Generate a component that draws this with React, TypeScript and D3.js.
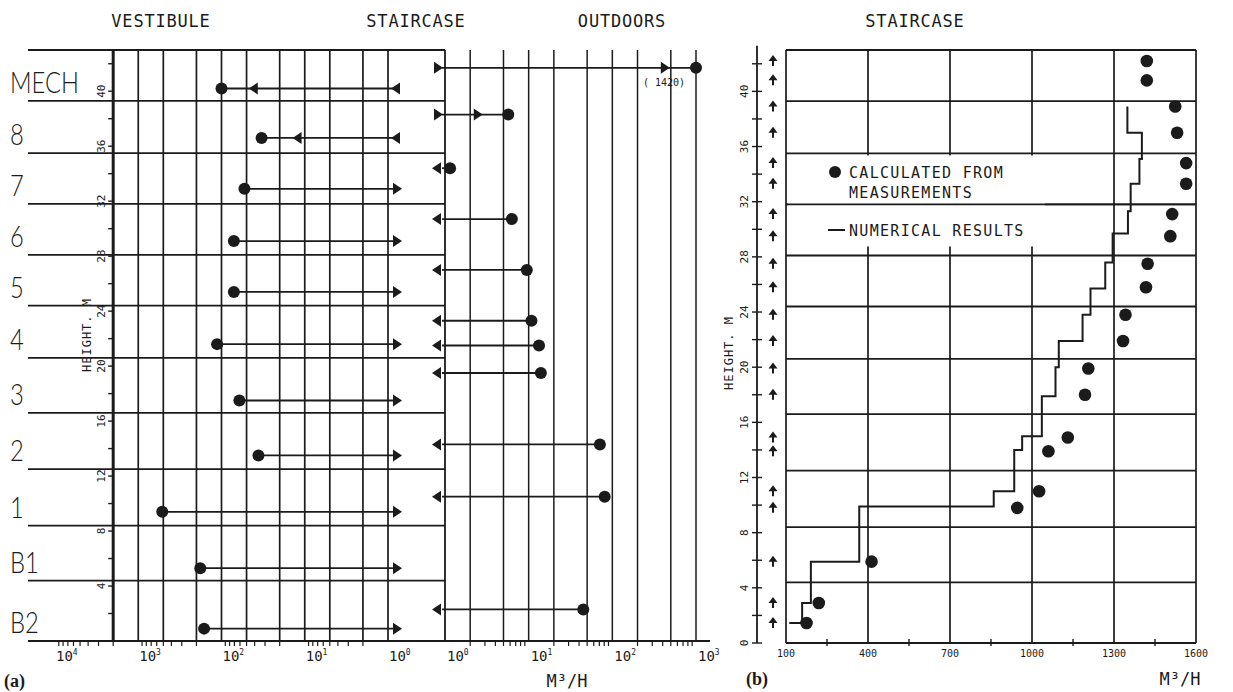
import React from 'react';
import * as d3 from 'd3';

// floors (height of floor lines, m) and their names, bottom to top
const floorLevels = [0, 4.4, 8.4, 12.5, 16.6, 20.6, 24.4, 28.1, 31.8, 35.5, 39.3, 43];
const floorNames = ['B2', 'B1', '1', '2', '3', '4', '5', '6', '7', '8', 'MECH'];

// (a) vestibule <-> staircase flows, m3/h
const vestHeight = [40.2, 36.6, 32.9, 29.1, 25.4, 21.6, 17.5, 13.5, 9.4, 5.3, 0.9];
const vestFlow = [100, 33, 53, 71, 71, 113, 61, 36, 515, 180, 162];
const vestToStair = [false, false, true, true, true, true, true, true, true, true, true];
const vestMidFlow = [47, 14, 0, 0, 0, 0, 0, 0, 0, 0, 0];

// (a) staircase <-> outdoors flows, m3/h
const outHeight = [41.7, 38.3, 34.4, 30.7, 27.0, 23.3, 21.5, 19.5, 14.3, 10.5, 2.3];
const outFlow = [1420, 5.7, 1.15, 6.3, 9.5, 10.8, 13.3, 14, 71, 81, 45];
const outToStair = [false, false, true, true, true, true, true, true, true, true, true];
const outMidFlow = [448, 2.6, 0, 0, 0, 0, 0, 0, 0, 0, 0];

// (b) staircase flow calculated from measurements
const measHeight = [42.2, 40.8, 38.9, 37.0, 34.8, 33.3, 31.1, 29.5, 27.5, 25.8, 23.8, 21.9, 19.9, 18.0, 14.9, 13.9, 11.0, 9.8, 5.9, 2.9, 1.45];
const measFlow = [1420, 1420, 1524, 1531, 1564, 1564, 1513, 1506, 1423, 1417, 1342, 1333, 1206, 1194, 1131, 1060, 1026, 946, 413, 220, 175];

// (b) numerical results (step line vertices)
const numFlow = [112, 159, 191, 368, 860, 935, 964, 1036, 1086, 1098, 1185, 1214, 1268, 1295, 1351, 1361, 1393, 1402, 1349];
const numHeight = [1.45, 2.9, 5.9, 9.9, 11.0, 14.0, 15.0, 17.9, 20.0, 21.9, 23.8, 25.7, 27.6, 29.7, 31.3, 33.3, 35.1, 37.0, 38.9];

const vestDecades = [4, 3, 2, 1, 0];
const outDecades = [0, 1, 2, 3];
const bTicks = [100, 400, 700, 1000, 1300, 1600];
const bMinor = [250, 550, 850, 1150, 1450];
const heightLabels = [4, 8, 12, 16, 20, 24, 28, 32, 36, 40];

const ink = '#1b1b1b';
const mono = '"DejaVu Sans Mono", monospace';
const thin = 'Lato, "Open Sans", Roboto, sans-serif';

const tri = (tip: number, y: number, dir: number, len = 9, half = 6) =>
  `${tip},${y} ${tip - dir * len},${y - half} ${tip - dir * len},${y + half}`;

export default function App() {
  const yA = d3.scaleLinear().domain([0, 43]).range([641, 50]);
  const yB = d3.scaleLinear().domain([0, 43]).range([643, 50]);
  const xVest = d3.scaleLog().domain([1, 10000]).range([388, 55]);
  const xOut = d3.scaleLog().domain([1, 1000]).range([445, 696]).clamp(true);
  const xB = d3.scaleLinear().domain([100, 1600]).range([786, 1196]);

  const boxLeft = 28;
  const axisA = xVest(2000);
  const stairEdge = xOut(1);
  const vestGrid = [1, 2, 5, 10, 20, 50, 100, 200, 500, 1000];
  const outGrid = [2, 5, 10, 20, 50, 100, 200, 500, 1000];

  const vestMinor: number[] = [];
  [1, 10, 100, 1000].forEach((d) => d3.range(2, 10).forEach((m) => vestMinor.push(d * m)));
  const outMinor: number[] = [];
  [1, 10, 100].forEach((d) => d3.range(2, 10).forEach((m) => outMinor.push(d * m)));

  const heightTicks = d3.range(0, 43, 2);

  const stepLine = d3
    .line<number>()
    .x((_, i) => xB(numFlow[i]))
    .y((_, i) => yB(numHeight[i]))
    .curve(d3.curveStepAfter);

  const arrowX = 773;

  return (
    <svg width={1233} height={692} style={{ position: 'absolute', left: 0, top: 0, background: '#fff' }}>
      <rect width={1233} height={692} fill="#fff" />

      {/* ---------- panel (a) ---------- */}
      <g fontFamily={mono} fill={ink} fontSize={17} letterSpacing={0.8}>
        <text x={161} y={27} textAnchor="middle">VESTIBULE</text>
        <text x={416} y={27} textAnchor="middle">STAIRCASE</text>
        <text x={622} y={27} textAnchor="middle">OUTDOORS</text>
      </g>

      {/* vestibule vertical grid */}
      {vestGrid.map((v) => (
        <line key={'vg' + v} x1={xVest(v)} x2={xVest(v)} y1={yA(43)} y2={yA(0)} stroke={ink} strokeWidth={1.7} />
      ))}
      {/* outdoor vertical grid */}
      {outGrid.map((v) => (
        <line key={'og' + v} x1={xOut(v)} x2={xOut(v)} y1={yA(43)} y2={yA(0)} stroke={ink} strokeWidth={1.5} />
      ))}
      {/* floor lines */}
      {floorLevels.map((h) => (
        <line key={'fl' + h} x1={boxLeft} x2={stairEdge} y1={yA(h)} y2={yA(h)} stroke={ink} strokeWidth={1.8} />
      ))}
      <line x1={stairEdge} x2={stairEdge} y1={yA(43)} y2={yA(0)} stroke={ink} strokeWidth={1.8} />
      <line x1={axisA} x2={axisA} y1={yA(43)} y2={yA(0)} stroke={ink} strokeWidth={3} />
      <line x1={boxLeft} x2={710} y1={yA(0)} y2={yA(0)} stroke={ink} strokeWidth={1.8} />

      {/* floor names */}
      {floorNames.map((n, i) => (
        <text key={'fn' + n} transform={`translate(10,${yA(floorLevels[i]) - 8}) scale(0.82,1)`} fontSize={29}
          fontFamily={thin} fontWeight={300} fill={ink}>{n}</text>
      ))}

      {/* height axis (a) */}
      {heightTicks.map((h) => (
        <line key={'ht' + h} x1={axisA - 5} x2={axisA} y1={yA(h)} y2={yA(h)} stroke={ink} strokeWidth={1.4} />
      ))}
      {heightLabels.map((h) => (
        <text key={'hl' + h} transform={`translate(${axisA - 8},${yA(h)}) rotate(-90)`} fontSize={11}
          fontFamily={mono} textAnchor="middle" fill={ink}>{h}</text>
      ))}
      <text transform={`translate(91,335) rotate(-90)`} fontSize={12} fontFamily={mono} textAnchor="middle"
        letterSpacing={1} fill={ink}>HEIGHT. M</text>

      {/* log axis minor ticks */}
      {vestMinor.filter((v) => xVest(v) >= boxLeft).map((v) => (
        <line key={'vm' + v} x1={xVest(v)} x2={xVest(v)} y1={yA(0)} y2={yA(0) + 5} stroke={ink} strokeWidth={1.2} />
      ))}
      {outMinor.map((v) => (
        <line key={'om' + v} x1={xOut(v)} x2={xOut(v)} y1={yA(0)} y2={yA(0) + 5} stroke={ink} strokeWidth={1.2} />
      ))}
      {vestDecades.map((e) => (
        <text key={'vd' + e} x={xVest(Math.pow(10, e)) + 1} y={661} fontSize={14} fontFamily={mono} fill={ink}>
          10<tspan dy={-6} fontSize={8}>{e}</tspan>
        </text>
      ))}
      {outDecades.map((e) => (
        <text key={'od' + e} x={xOut(Math.pow(10, e)) + 2} y={661} fontSize={14} fontFamily={mono} fill={ink}>
          10<tspan dy={-6} fontSize={8}>{e}</tspan>
        </text>
      ))}
      <text x={567} y={687} fontSize={17} fontFamily={mono} textAnchor="middle" fill={ink}>M³/H</text>
      <text x={4} y={687} fontSize={18} fontWeight="bold" fontFamily='"Liberation Serif", serif' fill={ink}>(a)</text>

      {/* vestibule flows */}
      {vestFlow.map((f, i) => {
        const y = yA(vestHeight[i]);
        const x = xVest(f);
        const end = vestToStair[i] ? xVest(1) + 5 : xVest(1) + 12;
        return (
          <g key={'vf' + i}>
            <line x1={x} x2={end} y1={y} y2={y} stroke={ink} strokeWidth={1.8} />
            {vestToStair[i]
              ? <polygon points={tri(xVest(1) + 14, y, 1)} fill={ink} />
              : <polygon points={tri(xVest(1) + 3, y, -1)} fill={ink} />}
            {vestMidFlow[i] > 0 && <polygon points={tri(xVest(vestMidFlow[i]), y, -1)} fill={ink} />}
            <circle cx={x} cy={y} r={6} fill={ink} />
          </g>
        );
      })}

      {/* outdoor flows */}
      {outFlow.map((f, i) => {
        const y = yA(outHeight[i]);
        const x = xOut(f);
        return (
          <g key={'of' + i}>
            <line x1={stairEdge - 3} x2={x} y1={y} y2={y} stroke={ink} strokeWidth={1.8} />
            {outToStair[i]
              ? <polygon points={tri(stairEdge - 13, y, -1)} fill={ink} />
              : <polygon points={tri(stairEdge - 2, y, 1)} fill={ink} />}
            {outMidFlow[i] > 0 && <polygon points={tri(xOut(outMidFlow[i]) + 3, y, 1)} fill={ink} />}
            <circle cx={x} cy={y} r={6} fill={ink} />
          </g>
        );
      })}
      <text x={643} y={86} fontSize={10} fontFamily={mono} fill={ink}>( 1420)</text>

      {/* ---------- panel (b) ---------- */}
      <text x={915} y={27} fontSize={17} fontFamily={mono} textAnchor="middle" letterSpacing={0.8} fill={ink}>STAIRCASE</text>

      {bTicks.map((v) => (
        <line key={'bg' + v} x1={xB(v)} x2={xB(v)} y1={yB(43)} y2={yB(0)} stroke={ink} strokeWidth={1.7} />
      ))}
      {floorLevels.map((h) => (
        <line key={'bf' + h} x1={xB(100)} x2={xB(1600)} y1={yB(h)} y2={yB(h)} stroke={ink} strokeWidth={1.8} />
      ))}
      {bMinor.map((v) => (
        <line key={'bm' + v} x1={xB(v)} x2={xB(v)} y1={yB(0) - 4} y2={yB(0) + 3} stroke={ink} strokeWidth={1.4} />
      ))}
      {bTicks.map((v) => (
        <text key={'bl' + v} x={xB(v)} y={657} fontSize={10} fontFamily={mono} textAnchor="middle" fill={ink}>{v}</text>
      ))}

      {/* legend */}
      <rect x={xB(100) + 2} y={yB(35.5) + 2} width={xB(1040) - xB(100)} height={yB(28.9) - yB(35.5)} fill="#fff" />
      <line x1={xB(100)} x2={xB(1600)} y1={yB(31.8)} y2={yB(31.8)} stroke={ink} strokeWidth={1.8} />
      <circle cx={835} cy={172} r={6} fill={ink} />
      <g fontFamily={mono} fontSize={15} letterSpacing={1.3} fill={ink}>
        <text x={849} y={178}>CALCULATED FROM</text>
        <text x={849} y={198}>MEASUREMENTS</text>
        <text x={849} y={236}>NUMERICAL RESULTS</text>
      </g>
      <line x1={828} x2={845} y1={230} y2={230} stroke={ink} strokeWidth={2} />

      {/* height axis (b) */}
      <line x1={757} x2={757} y1={yB(43.3)} y2={yB(0)} stroke={ink} strokeWidth={1.8} />
      {heightTicks.map((h) => (
        <line key={'bt' + h} x1={752} x2={762} y1={yB(h)} y2={yB(h)} stroke={ink} strokeWidth={1.4} />
      ))}
      {[0, ...heightLabels].map((h) => (
        <text key={'bhl' + h} transform={`translate(748,${yB(h)}) rotate(-90)`} fontSize={11}
          fontFamily={mono} textAnchor="middle" fill={ink}>{h}</text>
      ))}
      <text transform={`translate(733,353) rotate(-90)`} fontSize={12} fontFamily={mono} textAnchor="middle"
        letterSpacing={1} fill={ink}>HEIGHT. M</text>

      {/* flow direction arrows */}
      {measHeight.map((h, i) => {
        const y = yB(h);
        return (
          <g key={'ar' + i}>
            <line x1={arrowX} x2={arrowX} y1={y - 1} y2={y + 5} stroke={ink} strokeWidth={2} />
            <polygon points={`${arrowX},${y - 6} ${arrowX - 4.5},${y} ${arrowX + 4.5},${y}`} fill={ink} />
          </g>
        );
      })}

      {/* numerical results */}
      <path d={stepLine(numFlow) || ''} fill="none" stroke={ink} strokeWidth={2} />

      {/* measured points */}
      {measFlow.map((f, i) => (
        <circle key={'mp' + i} cx={xB(f)} cy={yB(measHeight[i])} r={6.3} fill={ink} />
      ))}

      <text x={1180} y={685} fontSize={17} fontFamily={mono} textAnchor="middle" fill={ink}>M³/H</text>
      <text x={746} y={685} fontSize={18} fontWeight="bold" fontFamily='"Liberation Serif", serif' fill={ink}>(b)</text>
    </svg>
  );
}
